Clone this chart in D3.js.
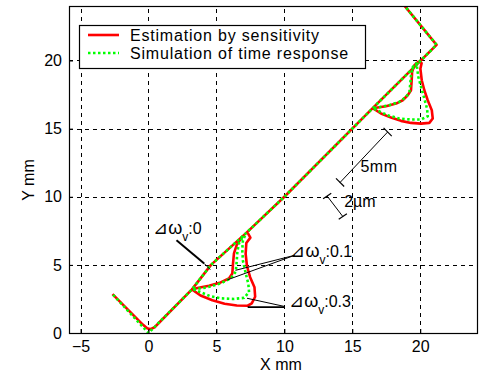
<!DOCTYPE html>
<html>
<head>
<meta charset="utf-8">
<script src="https://cdn.jsdelivr.net/npm/d3@7"></script>
<style>
  body { margin: 0; background: #fff; }
  svg { display: block; font-family: "Liberation Sans", Arial, sans-serif; }
</style>
</head>
<body>
<div id="chart"></div>
<script>
"use strict";

// axis ticks
var xTicks = [-5, 0, 5, 10, 15, 20];
var yTicks = [0, 5, 10, 15, 20];

// main contour (dw = 0), sensitivity estimation and simulation
var pathSens = [[-2.65, 2.85], [-0.4, 0.6], [-0.1, 0.35], [0.15, 0.28], [0.45, 0.42], [3.2, 3.2], [4.6, 5.0], [7.2, 7.35], [10, 10], [16.5, 16.5], [21.2, 21.15], [18.2, 24.8]];
var pathSim = [[-2.6, 2.8], [0, 0], [3.2, 3.2], [4.6, 5.0], [7.2, 7.35], [10, 10], [16.5, 16.5], [21.2, 21.15], [18.2, 24.8]];

// error lobes near the lower corner
var sens01Low = [[3.2, 3.2], [3.6, 3.3], [4.45, 3.47], [5.31, 3.71], [5.92, 4.0], [6.17, 4.37], [6.22, 5.1], [6.29, 5.84], [6.49, 6.45], [6.85, 7.0]];
var sim01Low = [[3.3, 3.2], [4.33, 3.35], [5.31, 3.64], [6.05, 4.01], [6.42, 4.49], [6.49, 5.23], [6.54, 5.96], [6.66, 6.58], [6.95, 7.05]];
var sens03Low = [[3.2, 3.2], [3.83, 2.75], [4.7, 2.4], [5.6, 2.15], [6.5, 2.02], [7.3, 2.0], [7.6, 2.17], [7.85, 2.66], [7.8, 3.35], [7.48, 4.1], [7.25, 4.9], [7.15, 5.8], [7.2, 6.6], [7.5, 7.0], [7.3, 7.35]];
var sim03Low = [[3.3, 3.2], [3.83, 3.0], [4.5, 2.72], [5.35, 2.54], [6.29, 2.5], [7.03, 2.58], [7.4, 3.0], [7.35, 3.6], [7.15, 4.4], [6.95, 5.3], [6.9, 6.1], [6.95, 6.8], [7.15, 7.25]];

// error lobes near the upper corner
var sens01Up = [[16.5, 16.5], [17.48, 16.64], [18.22, 16.84], [18.71, 17.08], [19.08, 17.45], [19.32, 17.82], [19.37, 18.55], [19.4, 19.16], [19.57, 19.65], [19.9, 19.95]];
var sim01Up = [[16.6, 16.5], [17.72, 16.72], [18.46, 16.96], [18.95, 17.32], [19.2, 17.69], [19.27, 18.31], [19.32, 18.91], [19.45, 19.52], [19.75, 19.85]];
var sens03Up = [[16.5, 16.5], [17.11, 16.11], [17.85, 15.81], [18.58, 15.57], [19.32, 15.42], [20.06, 15.37], [20.67, 15.42], [20.92, 15.74], [20.85, 16.35], [20.55, 17.08], [20.3, 17.82], [20.11, 18.55], [20.01, 19.4], [20.1, 19.8], [19.9, 20.0]];
var sim03Up = [[16.6, 16.45], [17.6, 15.98], [18.46, 15.74], [19.32, 15.67], [20.06, 15.67], [20.55, 15.91], [20.5, 16.47], [20.3, 17.2], [20.06, 18.06], [19.86, 18.79], [19.76, 19.52], [19.85, 19.85]];

var sensCurves = [pathSens, sens01Low, sens03Low, sens01Up, sens03Up];
var simCurves = [pathSim, sim01Low, sim03Low, sim01Up, sim03Up];

var legendLabels = ["Estimation by sensitivity", "Simulation of time response"];

var width = 481, height = 374;
var margin = {left: 69, right: 3, top: 6, bottom: 41};

var svg = d3.select("#chart").append("svg")
    .attr("width", width)
    .attr("height", height);

var x = d3.scaleLinear().domain([-5.85, 24.25]).range([margin.left, width - margin.right]);
var y = d3.scaleLinear().domain([0, 24]).range([height - margin.bottom, margin.top]);

var line = d3.line().x(function(d) { return x(d[0]); }).y(function(d) { return y(d[1]); });

svg.append("clipPath").attr("id", "plotClip")
  .append("rect")
    .attr("x", x.range()[0]).attr("y", y.range()[1])
    .attr("width", x.range()[1] - x.range()[0])
    .attr("height", y.range()[0] - y.range()[1]);

// grid
var grid = svg.append("g").attr("stroke", "#000").attr("stroke-width", 1).attr("stroke-dasharray", "4,4");
grid.selectAll(".gx").data(xTicks).enter().append("line")
    .attr("x1", function(d) { return Math.round(x(d)) + 0.5; })
    .attr("x2", function(d) { return Math.round(x(d)) + 0.5; })
    .attr("y1", y.range()[0]).attr("y2", y.range()[1]);
grid.selectAll(".gy").data(yTicks.filter(function(d) { return d > 0; })).enter().append("line")
    .attr("y1", function(d) { return Math.round(y(d)) + 0.5; })
    .attr("y2", function(d) { return Math.round(y(d)) + 0.5; })
    .attr("x1", x.range()[0]).attr("x2", x.range()[1]);

// curves
var plot = svg.append("g").attr("clip-path", "url(#plotClip)");
plot.selectAll(".sens").data(sensCurves).enter().append("path")
    .attr("d", line)
    .attr("fill", "none")
    .attr("stroke", "#ff0000")
    .attr("stroke-width", 2.6)
    .attr("stroke-linejoin", "round");
plot.selectAll(".sim").data(simCurves).enter().append("path")
    .attr("d", line)
    .attr("fill", "none")
    .attr("stroke", "#00ff00")
    .attr("stroke-width", 2.6)
    .attr("stroke-dasharray", "2.5,2.5");

// axes box and ticks
var xAxis = d3.axisBottom(x).tickValues(xTicks).tickSize(-4).tickPadding(8);
var yAxis = d3.axisLeft(y).tickValues(yTicks).tickSize(-4).tickPadding(7);

svg.append("g").attr("transform", "translate(0," + y.range()[0] + ")").call(xAxis)
    .call(function(g) { g.select(".domain").remove(); });
svg.append("g").attr("transform", "translate(" + x.range()[0] + ",0)").call(yAxis)
    .call(function(g) { g.select(".domain").remove(); });

svg.selectAll(".tick text").attr("font-size", 16).attr("fill", "#000")
    .attr("font-family", "'Liberation Sans', Arial, sans-serif");
svg.selectAll(".tick line").attr("stroke", "#000");

svg.append("rect")
    .attr("x", x.range()[0] + 0.5).attr("y", y.range()[1] + 0.5)
    .attr("width", x.range()[1] - x.range()[0] - 1)
    .attr("height", y.range()[0] - y.range()[1])
    .attr("fill", "none").attr("stroke", "#000").attr("stroke-width", 1.2);

// axis labels
svg.append("text").attr("x", 281).attr("y", 370).attr("text-anchor", "middle")
    .attr("font-size", 16).text("X mm");
svg.append("text").attr("transform", "translate(34,180) rotate(-90)").attr("text-anchor", "middle")
    .attr("font-size", 16).text("Y mm");

// legend
var legend = svg.append("g").attr("transform", "translate(79,25)");
legend.append("rect").attr("x", 0.5).attr("y", 0.5).attr("width", 286).attr("height", 43)
    .attr("fill", "#fff").attr("stroke", "#000").attr("stroke-width", 1.2);
legend.selectAll(".ll").data(legendLabels).enter().append("line")
    .attr("x1", 9).attr("x2", 40)
    .attr("y1", function(d, i) { return 10 + i * 18; })
    .attr("y2", function(d, i) { return 10 + i * 18; })
    .attr("stroke", function(d, i) { return i === 0 ? "#ff0000" : "#00ff00"; })
    .attr("stroke-width", 2.6)
    .attr("stroke-dasharray", function(d, i) { return i === 0 ? null : "2.5,2.5"; });
legend.selectAll(".lt").data(legendLabels).enter().append("text")
    .attr("x", 51)
    .attr("y", function(d, i) { return 16 + i * 18; })
    .attr("font-size", 16).attr("letter-spacing", 0.8)
    .text(function(d) { return d; });

// annotations (data coordinates)
var ann = svg.append("g").attr("stroke", "#000").attr("fill", "none");
function seg(a, b, w) {
  ann.append("line").attr("x1", x(a[0])).attr("y1", y(a[1])).attr("x2", x(b[0])).attr("y2", y(b[1]))
      .attr("stroke-width", w || 1);
}
// dw 0 leader
seg([2.06, 6.8], [4.1, 5.1], 2);
seg([4.1, 5.1], [4.55, 4.65], 1);
// dw 0.1 leaders
seg([10.75, 5.7], [6.4, 4.6], 1);
seg([10.75, 5.7], [5.8, 3.9], 1);
// dw 0.3 leaders
seg([10.0, 1.95], [7.25, 2.55], 1);
seg([10.0, 1.9], [7.3, 1.9], 1.6);
// 5mm scale bar
seg([17.6, 14.75], [14.1, 11.05], 1);
seg([17.3, 15.05], [17.9, 14.45], 1.2);
seg([13.8, 11.35], [14.4, 10.75], 1.2);
// 2um scale bar
seg([13.15, 10.05], [14.3, 8.55], 1);
seg([12.85, 9.85], [13.45, 10.25], 1.2);
seg([14.0, 8.35], [14.6, 8.75], 1.2);

var labels = svg.append("g").attr("font-size", 16).attr("fill", "#000");
function dwLabel(px, py, val) {
  var t = labels.append("text").attr("x", x(px)).attr("y", y(py));
  t.append("tspan").attr("font-size", 18).text("⊿ω");
  t.append("tspan").attr("dy", 7).attr("font-size", 12).text("v");
  t.append("tspan").attr("dy", -7).text(":" + val);
}
dwLabel(0.35, 7.3, "0");
dwLabel(10.45, 5.55, "0.1");
dwLabel(10.35, 1.9, "0.3");

labels.append("text").attr("x", x(15.6)).attr("y", y(11.8)).attr("letter-spacing", 0.5).text("5mm");
labels.append("text").attr("x", x(14.4)).attr("y", y(9.25)).text("2µm");
</script>
</body>
</html>
